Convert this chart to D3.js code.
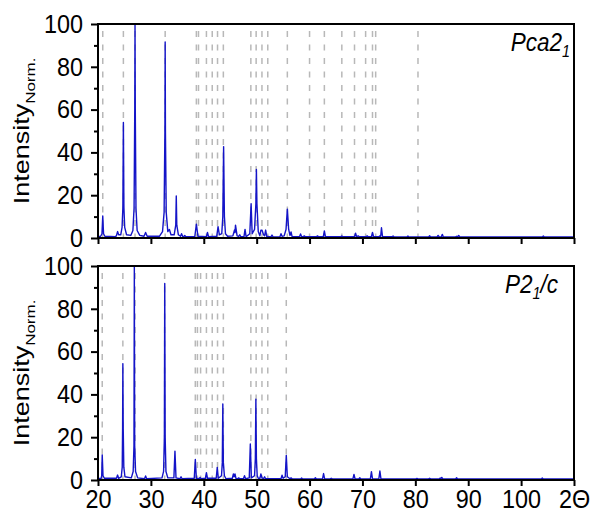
<!DOCTYPE html>
<html>
<head>
<meta charset="utf-8">
<script src="https://cdn.jsdelivr.net/npm/d3@7"></script>
<style>
  body { margin: 0; background: #fff; }
  text { font-family: "Liberation Sans", Arial, sans-serif; fill: #000; }
</style>
</head>
<body>
<svg id="chart" width="592" height="515"></svg>
<script>
// Diffractogramme, valeurs : [2theta, intensite]
const tracePca = [
  [20, 0.6], [20.5, 0.8], [20.75, 2], [20.9, 10.3], [21.05, 2], [21.3, 0.8],
  [23.3, 0.6], [23.5, 1.2], [23.7, 3], [23.9, 1.5],
  [24.3, 1.5], [24.55, 5], [24.7, 14], [24.8, 54], [24.9, 14], [25.05, 5], [25.4, 1.5],
  [26.2, 1.2], [26.6, 3.5], [26.82, 14], [26.95, 60], [27.0, 100], [27.05, 60], [27.18, 14], [27.4, 3.5], [27.9, 1.2],
  [28.7, 0.8], [29.0, 2.6], [29.3, 0.8],
  [31.6, 0.8], [32.2, 3], [32.5, 12], [32.65, 50], [32.7, 91.6], [32.75, 50], [32.9, 12], [33.2, 3],
  [33.5, 4], [33.8, 1.5],
  [34.4, 1.5], [34.7, 6], [34.8, 19.6], [34.9, 6], [35.2, 1.5],
  [35.6, 0.8], [35.8, 2], [36.0, 0.8], [36.2, 0.6], [36.4, 1.2], [36.6, 0.6],
  [38.3, 0.6], [38.6, 6.5], [38.9, 0.8],
  [40.5, 0.6], [40.7, 2.6], [40.9, 0.6],
  [42.45, 0.8], [42.7, 5.3], [42.95, 1.5],
  [43.4, 2], [43.6, 10], [43.75, 42.7], [43.9, 10], [44.1, 2], [44.5, 0.8],
  [45.5, 1], [45.8, 3.7], [45.9, 2.5], [46.0, 6], [46.3, 1],
  [46.6, 0.8], [46.8, 1.5], [47.0, 0.6], [47.6, 0.6], [47.8, 4], [48.0, 0.6],
  [48.7, 2], [48.95, 16], [49.15, 2],
  [49.6, 4], [49.85, 16], [49.95, 32], [50.05, 16], [50.3, 3],
  [50.6, 1], [50.8, 3.7], [51.0, 3.7], [51.3, 1.5], [51.5, 1], [51.7, 3.7], [51.9, 0.8],
  [52.7, 0.5], [52.9, 1.4], [53.1, 0.5],
  [54.4, 0.6], [54.6, 2], [54.8, 0.8], [55.2, 1], [55.55, 4], [55.8, 13.5], [56.05, 4], [56.3, 1.2], [56.5, 2.8], [56.7, 0.6],
  [58.1, 0.6], [58.3, 1.9], [58.5, 0.6], [58.8, 0.6], [59.0, 1], [59.2, 0.6],
  [61.3, 0.6], [61.5, 1], [61.7, 0.6], [62.6, 0.6], [62.8, 3.3], [63.0, 0.6],
  [65.9, 0.6], [66.1, 0.9], [66.3, 0.6],
  [68.5, 0.6], [68.7, 2.2], [68.9, 0.6], [69.2, 1], [69.4, 0.6],
  [70.7, 0.6], [70.9, 1], [71.1, 0.6], [71.7, 0.6], [71.9, 2.6], [72.1, 0.6],
  [73.1, 0.6], [73.3, 1], [73.45, 0.8], [73.6, 4.8], [73.8, 0.6],
  [75.6, 0.6], [75.8, 0.9], [76.0, 0.5], [78.4, 0.5], [78.6, 0.9], [78.8, 0.5],
  [82.5, 0.5], [82.7, 1], [82.9, 0.5], [84.1, 0.5], [84.3, 1.2], [84.5, 0.6], [84.9, 0.5], [85.1, 1.7], [85.3, 0.5],
  [87.6, 0.5], [87.8, 0.8], [88.0, 0.6], [88.2, 1.2], [88.4, 0.5],
  [104.0, 0.5], [104.2, 0.9], [104.4, 0.5], [110, 0.5]
];

const traceP21c = [
  [20, 0.6], [20.6, 0.8], [20.7, 2], [20.8, 11.7], [20.95, 2], [21.2, 0.8],
  [23.5, 0.8], [23.7, 2.3], [23.9, 0.8],
  [24.4, 1.5], [24.58, 6], [24.65, 24], [24.7, 54.4], [24.77, 24], [24.88, 6], [25.1, 1.5],
  [26.3, 1], [26.65, 4], [26.8, 16], [26.87, 100], [26.94, 16], [27.1, 4], [27.5, 1],
  [28.8, 0.6], [29.0, 1.9], [29.2, 0.6],
  [32.1, 1], [32.4, 4], [32.55, 20], [32.62, 91.8], [32.7, 20], [32.85, 4], [33.2, 1],
  [34.35, 1], [34.55, 13.5], [34.75, 1],
  [35.5, 0.6], [35.7, 1.5], [35.9, 0.6],
  [38.2, 0.8], [38.4, 9.6], [38.6, 0.8],
  [39.1, 0.6], [39.3, 1.2], [39.5, 0.6],
  [40.3, 0.8], [40.5, 3.4], [40.7, 0.8],
  [42.35, 0.8], [42.55, 5.9], [42.75, 0.8],
  [43.35, 2], [43.5, 8], [43.6, 35.5], [43.7, 8], [43.9, 2], [44.2, 0.6],
  [45.4, 0.8], [45.6, 2.8], [45.75, 1.5], [45.9, 2.8], [46.1, 0.6],
  [46.4, 0.6], [46.6, 1], [46.8, 0.6], [47.5, 0.6], [47.7, 2], [47.9, 0.6],
  [48.6, 1], [48.8, 16.8], [49.0, 1],
  [49.6, 2], [49.75, 10], [49.85, 37.8], [49.95, 10], [50.1, 2], [50.3, 0.8],
  [50.6, 0.6], [50.8, 2.8], [51.0, 1], [51.3, 0.6], [51.5, 1.5], [51.7, 0.6],
  [54.6, 0.6], [54.8, 2.2], [55.0, 0.8], [55.4, 1.5], [55.6, 11.5], [55.8, 1.5], [56.3, 0.6], [56.5, 1], [56.7, 0.6],
  [58.3, 0.5], [58.5, 0.9], [58.7, 0.5], [60.9, 0.5], [61.1, 1], [61.3, 0.5],
  [62.45, 0.5], [62.65, 3], [62.85, 0.5], [63.9, 0.5], [64.1, 0.8], [64.3, 0.5],
  [68.2, 0.5], [68.4, 2.6], [68.6, 0.6], [69.3, 0.5], [69.5, 1], [69.7, 0.5],
  [71.5, 0.5], [71.7, 3.9], [71.9, 0.5], [73.1, 0.5], [73.3, 4.2], [73.5, 0.5],
  [80.1, 0.5], [80.3, 0.7], [80.5, 0.5], [82.5, 0.5], [82.7, 0.8], [82.9, 0.5],
  [84.5, 0.5], [84.7, 0.9], [84.85, 0.6], [85.0, 1.2], [85.2, 0.5], [87.6, 0.5], [87.8, 1], [88.0, 0.5],
  [103.8, 0.5], [104, 0.9], [104.2, 0.5], [110, 0.5]
];

// Positions des reflexions de reference (lignes pointillees)
const refPca = [20.9, 24.8, 27.0, 32.7, 38.6, 39.0, 40.5, 41.6, 42.6, 43.7, 48.9, 49.9, 51.0, 52.1,
  55.8, 60.0, 62.8, 66.1, 68.5, 70.6, 71.9, 72.5, 80.5];
const refP21c = [20.8, 24.7, 27.0, 32.6, 38.4, 38.8, 39.4, 40.5, 41.6, 42.6, 43.7, 48.9, 49.9, 51.0,
  52.1, 55.6];

const xTicks = [20, 30, 40, 50, 60, 70, 80, 90, 100, 110];
const yTicks = [0, 20, 40, 60, 80, 100];
const yMinorTicks = [10, 30, 50, 70, 90];

const svg = d3.select('#chart');
const left = 98, right = 574;
const sx = 0.9; // texte un peu comprime horizontalement comme sur l'image

const x = d3.scaleLinear().domain([20, 110]).range([left, right]);

const panels = [
  { top: 24, bottom: 238, trace: tracePca, refs: refPca, name: 'Pca2', sub: '1', after: '', labelX: 570, labelY: 51, showX: false },
  { top: 266, bottom: 480, trace: traceP21c, refs: refP21c, name: 'P2', sub: '1', after: '/c', labelX: 558, labelY: 293, showX: true }
];

panels.forEach(function (p, i) {
  const y = d3.scaleLinear().domain([0, 100]).range([p.bottom, p.top]);
  const g = svg.append('g');

  g.append('clipPath').attr('id', 'clip' + i)
    .append('rect')
    .attr('x', left).attr('y', p.top)
    .attr('width', right - left).attr('height', p.bottom - p.top);

  // lignes pointillees
  g.append('g').selectAll('line')
    .data(p.refs)
    .enter().append('line')
    .attr('x1', d => x(d)).attr('x2', d => x(d))
    .attr('y1', p.top + 7).attr('y2', p.bottom)
    .attr('stroke', '#b8b8b8')
    .attr('stroke-width', 1.5)
    .attr('stroke-dasharray', '6,7.5');

  // diffractogramme
  const line = d3.line().x(d => x(d[0])).y(d => y(d[1]));
  g.append('path')
    .datum(p.trace)
    .attr('clip-path', 'url(#clip' + i + ')')
    .attr('d', line)
    .attr('fill', 'none')
    .attr('stroke', '#1414c8')
    .attr('stroke-width', 1.4)
    .attr('stroke-linejoin', 'round');

  // axe Y
  const ya = g.append('g')
    .attr('transform', `translate(${left},0)`)
    .call(d3.axisLeft(y).tickValues(yTicks).tickSize(7).tickPadding(8));
  ya.select('.domain').remove();
  ya.selectAll('line').attr('stroke-width', 2);
  ya.selectAll('text')
    .attr('font-size', 26)
    .attr('font-family', '"Liberation Sans", Arial, sans-serif')
    .attr('x', -15 / sx)
    .attr('transform', `scale(${sx},1)`);

  const yb = g.append('g')
    .attr('transform', `translate(${left},0)`)
    .call(d3.axisLeft(y).tickValues(yMinorTicks).tickSize(4).tickFormat(''));
  yb.select('.domain').remove();
  yb.selectAll('line').attr('stroke-width', 2);

  // axe X
  const xa = g.append('g')
    .attr('transform', `translate(0,${p.bottom})`)
    .call(d3.axisBottom(x).tickValues(xTicks).tickSize(6).tickPadding(4)
      .tickFormat(d => p.showX ? (d === 110 ? '2Θ' : d) : ''));
  xa.select('.domain').remove();
  xa.selectAll('line').attr('stroke-width', 2);
  xa.selectAll('text')
    .attr('font-size', 26)
    .attr('font-family', '"Liberation Sans", Arial, sans-serif')
    .attr('transform', `scale(${sx},1)`);

  // cadre
  g.append('rect')
    .attr('x', left).attr('y', p.top)
    .attr('width', right - left).attr('height', p.bottom - p.top)
    .attr('fill', 'none')
    .attr('stroke', '#000')
    .attr('stroke-width', 2);

  // nom du groupe d'espace
  const lab = g.append('text')
    .attr('transform', `translate(${p.labelX},${p.labelY}) scale(${sx},1)`)
    .attr('text-anchor', 'end')
    .attr('font-size', 25)
    .attr('font-style', 'italic');
  lab.append('tspan').text(p.name);
  lab.append('tspan').attr('font-size', 16).attr('dy', 6).text(p.sub);
  if (p.after) lab.append('tspan').attr('dy', -6).text(p.after);

  // titre axe Y
  const yl = g.append('text')
    .attr('transform', `translate(29,${(p.top + p.bottom) / 2}) rotate(-90) scale(1,0.8)`)
    .attr('text-anchor', 'middle')
    .attr('font-size', 27);
  yl.append('tspan').text('Intensity');
  yl.append('tspan').attr('font-size', 17).attr('dy', 8).text('Norm.');
});
</script>
</body>
</html>
